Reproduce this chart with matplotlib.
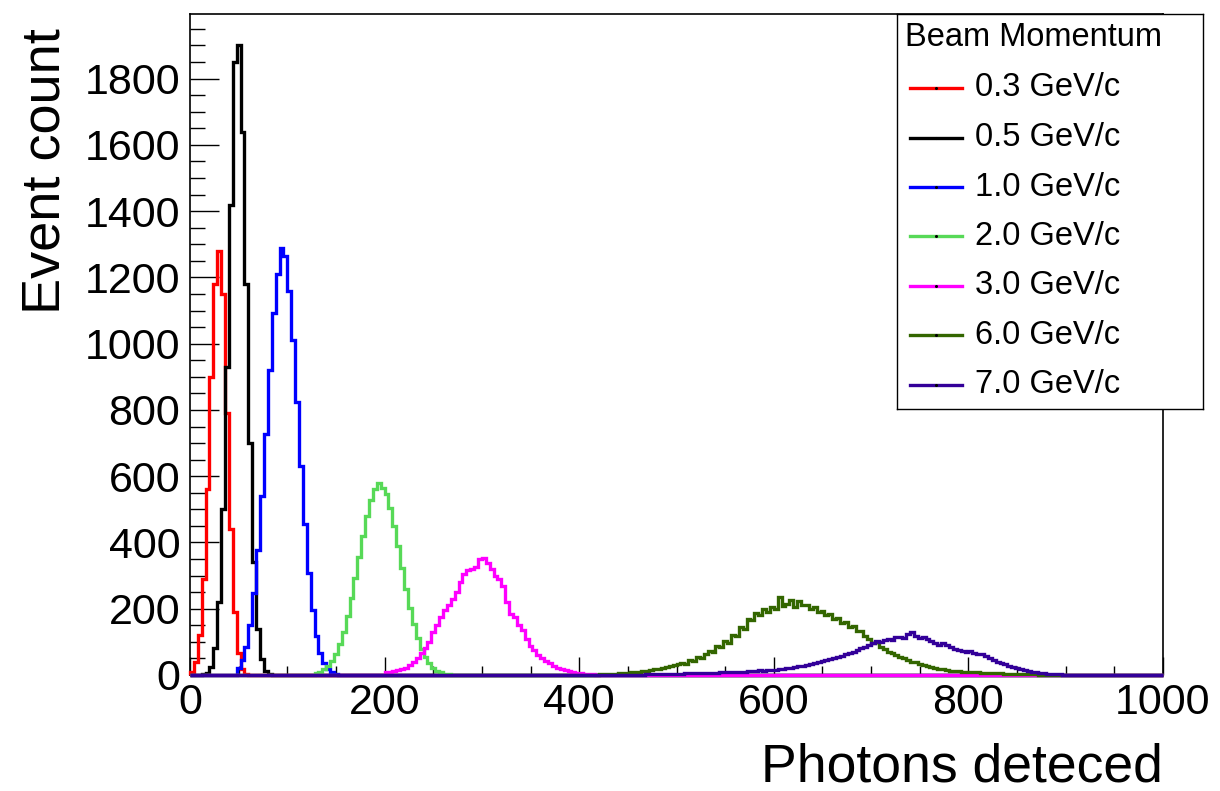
"""
Photon-count spectra for several beam momenta, ROOT-style step histograms.
"""

import numpy as np
import matplotlib
matplotlib.use("Agg")
import matplotlib.pyplot as plt
from matplotlib.ticker import MultipleLocator

plt.rcParams["font.family"] = ["Liberation Sans", "DejaVu Sans"]

# ----- Data (bin width 4, 0..1000) ------------------------------------------
BIN_W = 4
N_BINS = 250

LABELS = ["0.3 GeV/c", "0.5 GeV/c", "1.0 GeV/c", "2.0 GeV/c",
          "3.0 GeV/c", "6.0 GeV/c", "7.0 GeV/c"]
COLORS = ["#ff0000", "#000000", "#0000ff", "#57d957",
          "#ff00ff", "#336600", "#330099"]

# first bin low edge of each series
STARTS = [0, 12, 48, 128, 200, 420, 460]

RED = [10, 40, 120, 290, 560, 900, 1180, 1280, 1150, 790, 440, 190, 65, 18, 4]

BLACK = [2, 6, 25, 80, 220, 500, 930, 1420, 1850, 1900, 1640, 1180, 700,
         340, 140, 47, 13, 3]

BLUE = [20, 44, 85, 150, 247, 378, 541, 728, 920, 1093, 1210, 1290,
        1265, 1160, 1011, 825, 632, 456, 309, 196, 117, 66, 35, 17, 8, 3]

GREEN = [6, 10, 17, 27, 43, 64, 93, 131, 177, 231, 292, 357, 420, 479, 527,
         560, 578, 565, 545, 504, 451, 389, 324, 261, 203, 153, 111, 78, 53,
         35, 22, 13, 8, 4, 2]

MAGENTA = [8, 10, 12, 15, 18, 22, 30, 38, 50,
           66, 80, 100, 130, 150, 175, 196, 210, 230, 250,
           280, 305, 318, 320, 325, 350, 352, 338, 320, 300,
           290, 270, 220, 185, 175, 150, 135, 110, 88, 75,
           60, 52, 42, 35, 28, 22, 18, 14, 11, 9,
           7, 5, 4, 3, 2, 1]

DKGREEN = [2, 3, 3, 4, 4, 5, 6, 7, 8, 9,
           10, 11, 13, 15, 17, 19, 21, 24, 26, 29,
           32, 36, 34, 44, 42, 53, 50, 63, 72, 70,
           87, 84, 102, 98, 122, 118, 145, 140, 170, 165,
           186, 180, 198, 190, 205, 200, 236, 208, 215, 226,
           205, 222, 210, 212, 198, 204, 190, 192, 180, 184,
           170, 172, 158, 160, 145, 148, 132, 134, 118, 110,
           98, 100, 84, 78, 70, 66, 60, 54, 50, 46,
           40, 38, 33, 30, 27, 24, 21, 19, 17, 15,
           13, 12, 11, 10, 9, 9, 8, 8, 7, 7,
           6, 6, 5, 5, 4, 4, 4, 3, 3, 3,
           2, 2, 2, 1, 1]

PURPLE = [1, 1, 2, 2, 2, 2, 3, 3, 3, 4,
          4, 4, 5, 5, 5, 6, 6, 6, 7, 7,
          7, 8, 8, 8, 9, 9, 10, 10, 11, 12,
          13, 14, 13, 15, 16, 15, 17, 19, 20, 22,
          24, 26, 28, 31, 33, 36, 40, 42, 45, 48,
          50, 54, 57, 62, 66, 70, 75, 80, 84, 90,
          96, 104, 100, 106, 110, 106, 114, 116, 112, 124,
          130, 118, 112, 116, 108, 104, 96, 92, 96, 90,
          84, 78, 74, 72, 70, 72, 66, 62, 64, 58,
          50, 44, 40, 36, 32, 28, 24, 20, 18, 15,
          12, 10, 8, 6, 5, 4, 3, 2, 2, 1]

SERIES = [RED, BLACK, BLUE, GREEN, MAGENTA, DKGREEN, PURPLE]

X_TICKS = [0, 200, 400, 600, 800, 1000]
Y_TICKS = [0, 200, 400, 600, 800, 1000, 1200, 1400, 1600, 1800]

FIG_W, FIG_H = 1220, 791
LINE_W = 2.4


def full_counts(start, values):
    counts = np.zeros(N_BINS)
    i0 = start // BIN_W
    counts[i0:i0 + len(values)] = values
    return counts


# =============================================================================
def main():
    fig = plt.figure(figsize=(FIG_W / 100, FIG_H / 100), dpi=100,
                     facecolor="white")
    ax = fig.add_axes([190 / FIG_W, 1 - 675 / FIG_H,
                       (1163 - 190) / FIG_W, (675 - 14) / FIG_H])

    edges = np.arange(N_BINS + 1) * BIN_W
    for start, vals, col in zip(STARTS, SERIES, COLORS):
        ax.stairs(full_counts(start, vals), edges, color=col,
                  linewidth=LINE_W, zorder=3, clip_on=False)

    ax.set_xlim(0, 1000)
    ax.set_ylim(0, 1995)
    ax.set_xticks(X_TICKS)
    ax.set_yticks(Y_TICKS)
    ax.xaxis.set_minor_locator(MultipleLocator(50))
    ax.yaxis.set_minor_locator(MultipleLocator(50))
    ax.tick_params(axis="x", which="major", direction="in", length=13,
                   width=1.0, labelsize=31, pad=6)
    ax.tick_params(axis="x", which="minor", direction="in", length=6.5,
                   width=1.0)
    ax.tick_params(axis="y", which="major", direction="in", length=21,
                   width=1.0, labelsize=31, pad=7)
    ax.tick_params(axis="y", which="minor", direction="in", length=10.5,
                   width=1.0)
    for s in ax.spines.values():
        s.set_linewidth(1.2)

    fig.text(46 / FIG_W, 1 - 28 / FIG_H, "Event count", rotation=90,
             ha="center", va="top", fontsize=39)
    fig.text(1163 / FIG_W, 1 - 768 / FIG_H, "Photons deteced",
             ha="right", va="center", fontsize=38.5)

    # ---- Legend box (pixel coords inside) ----
    lw_, lh_ = 306, 395
    lax = fig.add_axes([897 / FIG_W, 1 - 409 / FIG_H, lw_ / FIG_W, lh_ / FIG_H])
    lax.set_xlim(0, lw_)
    lax.set_ylim(lh_, 0)
    lax.set_xticks([]); lax.set_yticks([])
    lax.set_facecolor("white")
    for s in lax.spines.values():
        s.set_linewidth(1.0)
        s.set_color("black")
    lax.text(8, 24, "Beam Momentum", fontsize=23.5, va="center", ha="left")
    for i, (lab, col) in enumerate(zip(LABELS, COLORS)):
        y = 74 + i * 49.5
        lax.plot([13, 65], [y, y], color=col, linewidth=LINE_W)
        lax.plot([39], [y], marker="o", markersize=1.2, color="black")
        lax.text(78, y, lab, fontsize=23.5, va="center", ha="left")

    fig.savefig("out.png", dpi=100, facecolor="white")
    plt.close(fig)


if __name__ == "__main__":
    main()
